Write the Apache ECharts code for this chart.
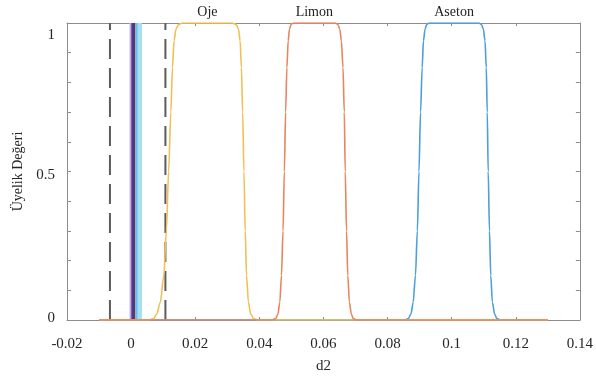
<!DOCTYPE html>
<html><head><meta charset="utf-8">
<script src="https://cdn.jsdelivr.net/npm/echarts@6/dist/echarts.min.js"></script>
<style>html,body{margin:0;padding:0;background:#fff}#c{width:596px;height:379px}</style>
</head><body><div id="c"></div>
<script>
// ---- data ----
const seriesNames = ['Oje', 'Limon', 'Aseton'];
// membership levels shared by the three trapezoid-like curves
const memberY = [0, 0, 0.005, 0.02, 0.06, 0.15, 0.3, 0.5, 0.7, 0.85, 0.94, 0.98, 0.995, 1,
                 1, 0.995, 0.98, 0.94, 0.85, 0.7, 0.5, 0.3, 0.15, 0.06, 0.02, 0.005, 0, 0];
const ojeX    = [-0.0100, 0.0055, 0.0070, 0.0080, 0.0091, 0.0102, 0.0110, 0.0117, 0.0124, 0.0129, 0.0134, 0.0140, 0.0148, 0.0160,
                 0.0316, 0.0328, 0.0335, 0.0340, 0.0344, 0.0348, 0.0352, 0.0356, 0.0360, 0.0366, 0.0373, 0.0382, 0.0395, 0.1300];
const limonX  = [-0.0100, 0.0440, 0.0451, 0.0458, 0.0464, 0.0469, 0.0474, 0.0478, 0.0482, 0.0486, 0.0490, 0.0494, 0.0499, 0.0506,
                 0.0637, 0.0645, 0.0651, 0.0656, 0.0661, 0.0665, 0.0668, 0.0672, 0.0676, 0.0681, 0.0687, 0.0693, 0.0702, 0.1300];
const asetonX = [-0.0100, 0.0855, 0.0865, 0.0873, 0.0880, 0.0887, 0.0893, 0.0898, 0.0903, 0.0908, 0.0912, 0.0917, 0.0922, 0.0930,
                 0.1085, 0.1093, 0.1099, 0.1104, 0.1108, 0.1111, 0.1114, 0.1118, 0.1122, 0.1127, 0.1134, 0.1141, 0.1152, 0.1300];
// narrow membership functions clustered at d2 ~ 0 (drawn as vertical bars)
const clusterX = [-0.0002, 0.0003, 0.0008, 0.0010, 0.0017, 0.0027];
// dashed boundary lines
const dashedX = [-0.0066, 0.0107];
// axis settings / tick labels
const xMin = -0.02, xMax = 0.14, xStep = 0.02;
const yMin = 0, yMax = 1, yStep = 0.1;
const yLabels = [0, 0.5, 1];

// ---- styles ----
const FONT = 'Liberation Serif';
const curveColors = {Oje: '#F1BF55', Limon: '#E9845F', Aseton: '#4C9FDA'};
const clusterStyles = [
  {color: '#cdbbe6', width: 2},
  {color: '#7d5db3', width: 2.5},
  {color: '#3d3a8a', width: 3},
  {color: '#a0203f', width: 1},
  {color: '#5ec3e6', width: 3},
  {color: '#a8def2', width: 4.5}
];
const AX = '#8c8c8c';

function pairs(xs, ys) { return xs.map((x, i) => [x, ys[i]]); }
function plateauCenter(xs, ys) {
  const p = xs.filter((x, i) => ys[i] === 1);
  return (Math.min(...p) + Math.max(...p)) / 2;
}
const curveX = {Oje: ojeX, Limon: limonX, Aseton: asetonX};

const series = [];
clusterX.forEach((x, i) => {
  series.push({
    type: 'line', data: [[x, yMin], [x, yMax]], symbol: 'none', silent: true,
    lineStyle: {color: clusterStyles[i].color, width: clusterStyles[i].width}, z: 2
  });
});
dashedX.forEach(x => {
  series.push({
    type: 'line', data: [[x, yMin], [x, yMax]], symbol: 'none', silent: true,
    lineStyle: {color: '#5c5c5c', width: 2, type: [20, 9]}, z: 3
  });
});
['Aseton', 'Oje', 'Limon'].forEach((name, k) => {
  const xs = curveX[name];
  series.push({
    name, type: 'line', data: pairs(xs, memberY), symbol: 'none', smooth: 0.3,
    smoothMonotone: 'x',
    lineStyle: {color: curveColors[name], width: 1.6}, z: 4 + k,
    markPoint: {
      symbol: 'circle', symbolSize: 0, silent: true,
      data: [{coord: [plateauCenter(xs, memberY), yMax]}],
      label: {show: true, position: 'top', distance: 4, formatter: name,
              color: '#222', fontFamily: FONT, fontSize: 14}
    }
  });
});

const chart = echarts.init(document.getElementById('c'), null, {renderer: 'canvas'});
const labelCommon = {color: '#262626', fontFamily: FONT, fontSize: 15};
const lineCommon = {show: true, onZero: false, lineStyle: {color: AX, width: 1}};
chart.setOption({
  animation: false,
  backgroundColor: '#fff',
  grid: {left: 67, right: 15, top: 23, bottom: 53},
  xAxis: [{
    type: 'value', min: xMin, max: xMax, interval: xStep, position: 'bottom',
    name: 'd2', nameLocation: 'middle', nameGap: 39,
    nameTextStyle: {color: '#262626', fontFamily: FONT, fontSize: 15},
    axisLine: lineCommon,
    axisTick: {show: true, inside: true, length: 3, lineStyle: {color: AX}},
    axisLabel: Object.assign({margin: 17}, labelCommon),
    splitLine: {show: false}
  }, {
    type: 'value', min: xMin, max: xMax, interval: xStep, position: 'top',
    axisLine: lineCommon,
    axisTick: {show: true, inside: true, length: 3, lineStyle: {color: AX}},
    axisLabel: {show: false}, splitLine: {show: false}
  }],
  yAxis: [{
    type: 'value', min: yMin, max: yMax, interval: yStep, position: 'left',
    name: 'Üyelik Değeri', nameLocation: 'middle', nameGap: 27,
    nameTextStyle: {color: '#262626', fontFamily: FONT, fontSize: 14},
    axisLine: lineCommon,
    axisTick: {show: true, inside: true, length: 4, lineStyle: {color: AX}},
    axisLabel: Object.assign({
      margin: 12,
      formatter: v => {
        const hit = yLabels.find(l => Math.abs(l - v) < 1e-9);
        if (hit === undefined) return '';
        if (hit === yMax) return '{top|' + hit + '}';
        if (hit === yMin) return '{bot|' + hit + '}';
        return '{mid|' + hit + '}';
      },
      rich: {
        top: {padding: [24, 0, 0, 0], color: '#262626', fontFamily: FONT, fontSize: 15},
        mid: {padding: [8, 0, 0, 0], color: '#262626', fontFamily: FONT, fontSize: 15},
        bot: {padding: [0, 0, 4, 0], color: '#262626', fontFamily: FONT, fontSize: 15}
      }
    }, labelCommon),
    splitLine: {show: false}
  }, {
    type: 'value', min: yMin, max: yMax, interval: yStep, position: 'right',
    axisLine: lineCommon,
    axisTick: {show: true, inside: true, length: 4, lineStyle: {color: AX}},
    axisLabel: {show: false}, splitLine: {show: false}
  }],
  series
});
</script></body></html>
